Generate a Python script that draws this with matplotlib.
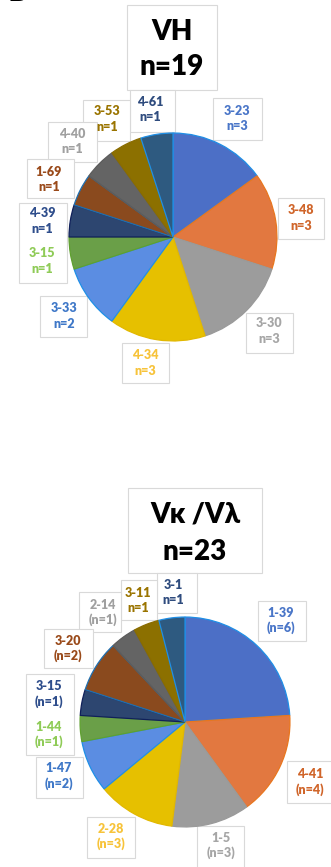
import matplotlib
matplotlib.use("Agg")
import matplotlib.pyplot as plt
from matplotlib.patches import Rectangle

# ---------------- data ----------------
vh_genes = ["3-23", "3-48", "3-30", "4-34", "3-33", "3-15", "4-39", "1-69", "4-40", "3-53", "4-61"]
vh_counts = [3, 3, 3, 3, 2, 1, 1, 1, 1, 1, 1]
vh_title = "VH"
vh_total_label = "n=19"

vl_genes = ["1-39", "4-41", "1-5", "2-28", "1-47", "1-44", "3-15", "3-20", "2-14", "3-11", "3-1"]
vl_counts = [6, 4, 3, 3, 2, 1, 1, 2, 1, 1, 1]
vl_title = "V\u03ba /V\u03bb"
vl_total_label = "n=23"

# ---------------- styling ----------------
W, H = 331, 867
FONT = ["Lato", "Open Sans", "DejaVu Sans"]

slice_colors = ["#4C6FC6", "#E27840", "#9C9C9C", "#E6C000", "#5B8DE2", "#6A9F48",
                "#2D4670", "#8A4A1E", "#646464", "#8C7000", "#2E5A80"]
edge_colors = ["#1F8FE6", "#E8761E", "#9A9A9A", "#E2B800", "#1F8FE6", "#5FA030",
               "#10205A", "#1F6FB0", "#5C5C5C", "#8A6C00", "#1F8FE6"]
label_colors = ["#4A76C8", "#D0652A", "#A6A6A6", "#F7C33A", "#3F78C8", "#8FCB57",
                "#2F4E8C", "#9A4A1A", "#A0A0A0", "#9A7400", "#2F4C7E"]

fig = plt.figure(figsize=(W / 100, H / 100), dpi=100)
fig.patch.set_facecolor("white")


def fx(x):
    return x / W


def fy(y):
    return 1 - y / H


def box(x0, y0, x1, y1):
    fig.patches.append(Rectangle((fx(x0), fy(y1)), fx(x1) - fx(x0), fy(y0) - fy(y1),
                                 transform=fig.transFigure, facecolor="white",
                                 edgecolor="#D9D9D9", linewidth=0.8, zorder=-2))


def label(x, y1, y2, name, count_text, color):
    for yy, t in ((y1, name), (y2, count_text)):
        fig.text(fx(x), fy(yy), t, ha="center", va="center", color=color,
                 fontsize=9, fontweight="heavy", family=FONT, zorder=5)


def draw_pie(cx, cy, r, counts):
    ax = fig.add_axes([fx(cx - r), fy(cy + r), (2 * r) / W, (2 * r) / H], zorder=1)
    wedges, _ = ax.pie(counts, colors=slice_colors, startangle=90, counterclock=False,
                       radius=1.0, wedgeprops=dict(linewidth=0.9))
    for w, ec in zip(wedges, edge_colors):
        w.set_edgecolor(ec)
    ax.set_xlim(-1.01, 1.01)
    ax.set_ylim(-1.01, 1.01)
    ax.set_aspect("auto")
    ax.axis("off")
    return ax


# panel letter (cropped at the top edge)
fig.text(fx(7), fy(0.8), "B", ha="left", va="baseline", fontsize=22, fontweight="bold",
         family=FONT, color="black")

# ---------------- VH panel ----------------
vh_boxes = [(127, 5, 217, 90), (213, 98, 262, 140), (130, 90, 175, 132), (83, 100, 130, 141),
            (48, 122, 97, 162), (27, 159, 74, 198), (19, 203, 67, 283), (40, 296, 87, 337),
            (122, 343, 169, 383), (246, 313, 293, 353), (278, 198, 324, 239)]
for b in vh_boxes:
    box(*b)

fig.text(fx(172), fy(32), vh_title, ha="center", va="center", fontsize=20,
         fontweight="heavy", family=FONT)
fig.text(fx(172), fy(67), vh_total_label, ha="center", va="center", fontsize=20,
         fontweight="heavy", family=FONT)

draw_pie(173, 237, 105, vh_counts)

vh_label_pos = [(237, 111, 126), (301, 210, 226), (269, 323, 339), (145, 355, 371),
                (64, 308, 324), (42, 253, 269), (42, 213, 229), (49, 172, 187),
                (72, 134, 149), (107, 111, 127), (150, 102, 117)]
for (x, y1, y2), g, c, col in zip(vh_label_pos, vh_genes, vh_counts, label_colors):
    label(x, y1, y2, g, f"n={c}", col)

# ---------------- Vk / Vl panel ----------------
vl_boxes = [(128, 488, 262, 573), (258, 601, 306, 641), (157, 573, 197, 613),
            (121, 580, 157, 620), (79, 592, 121, 632), (44, 629, 93, 668),
            (26, 674, 74, 755), (36, 757, 83, 798), (87, 817, 135, 858),
            (197, 826, 244, 870), (287, 761, 334, 803)]
for b in vl_boxes:
    box(*b)

fig.text(fx(195), fy(515), vl_title, ha="center", va="center", fontsize=20,
         fontweight="heavy", family=FONT)
fig.text(fx(195), fy(552), vl_total_label, ha="center", va="center", fontsize=20,
         fontweight="heavy", family=FONT)

draw_pie(185, 722, 106, vl_counts)

vl_count_fmt = ["({})"] * 9 + ["{}"] * 2
vl_label_pos = [(281, 613, 628), (310, 774, 790), (221, 838, 853), (111, 829, 844),
                (59, 768, 784), (49, 727, 742), (49, 686, 702), (68, 641, 656),
                (103, 605, 620), (138, 593, 608), (173, 585, 600)]
for (x, y1, y2), g, c, fmt, col in zip(vl_label_pos, vl_genes, vl_counts, vl_count_fmt,
                                       label_colors):
    label(x, y1, y2, g, fmt.format(f"n={c}"), col)

fig.savefig("out.png", dpi=100, facecolor="white")
